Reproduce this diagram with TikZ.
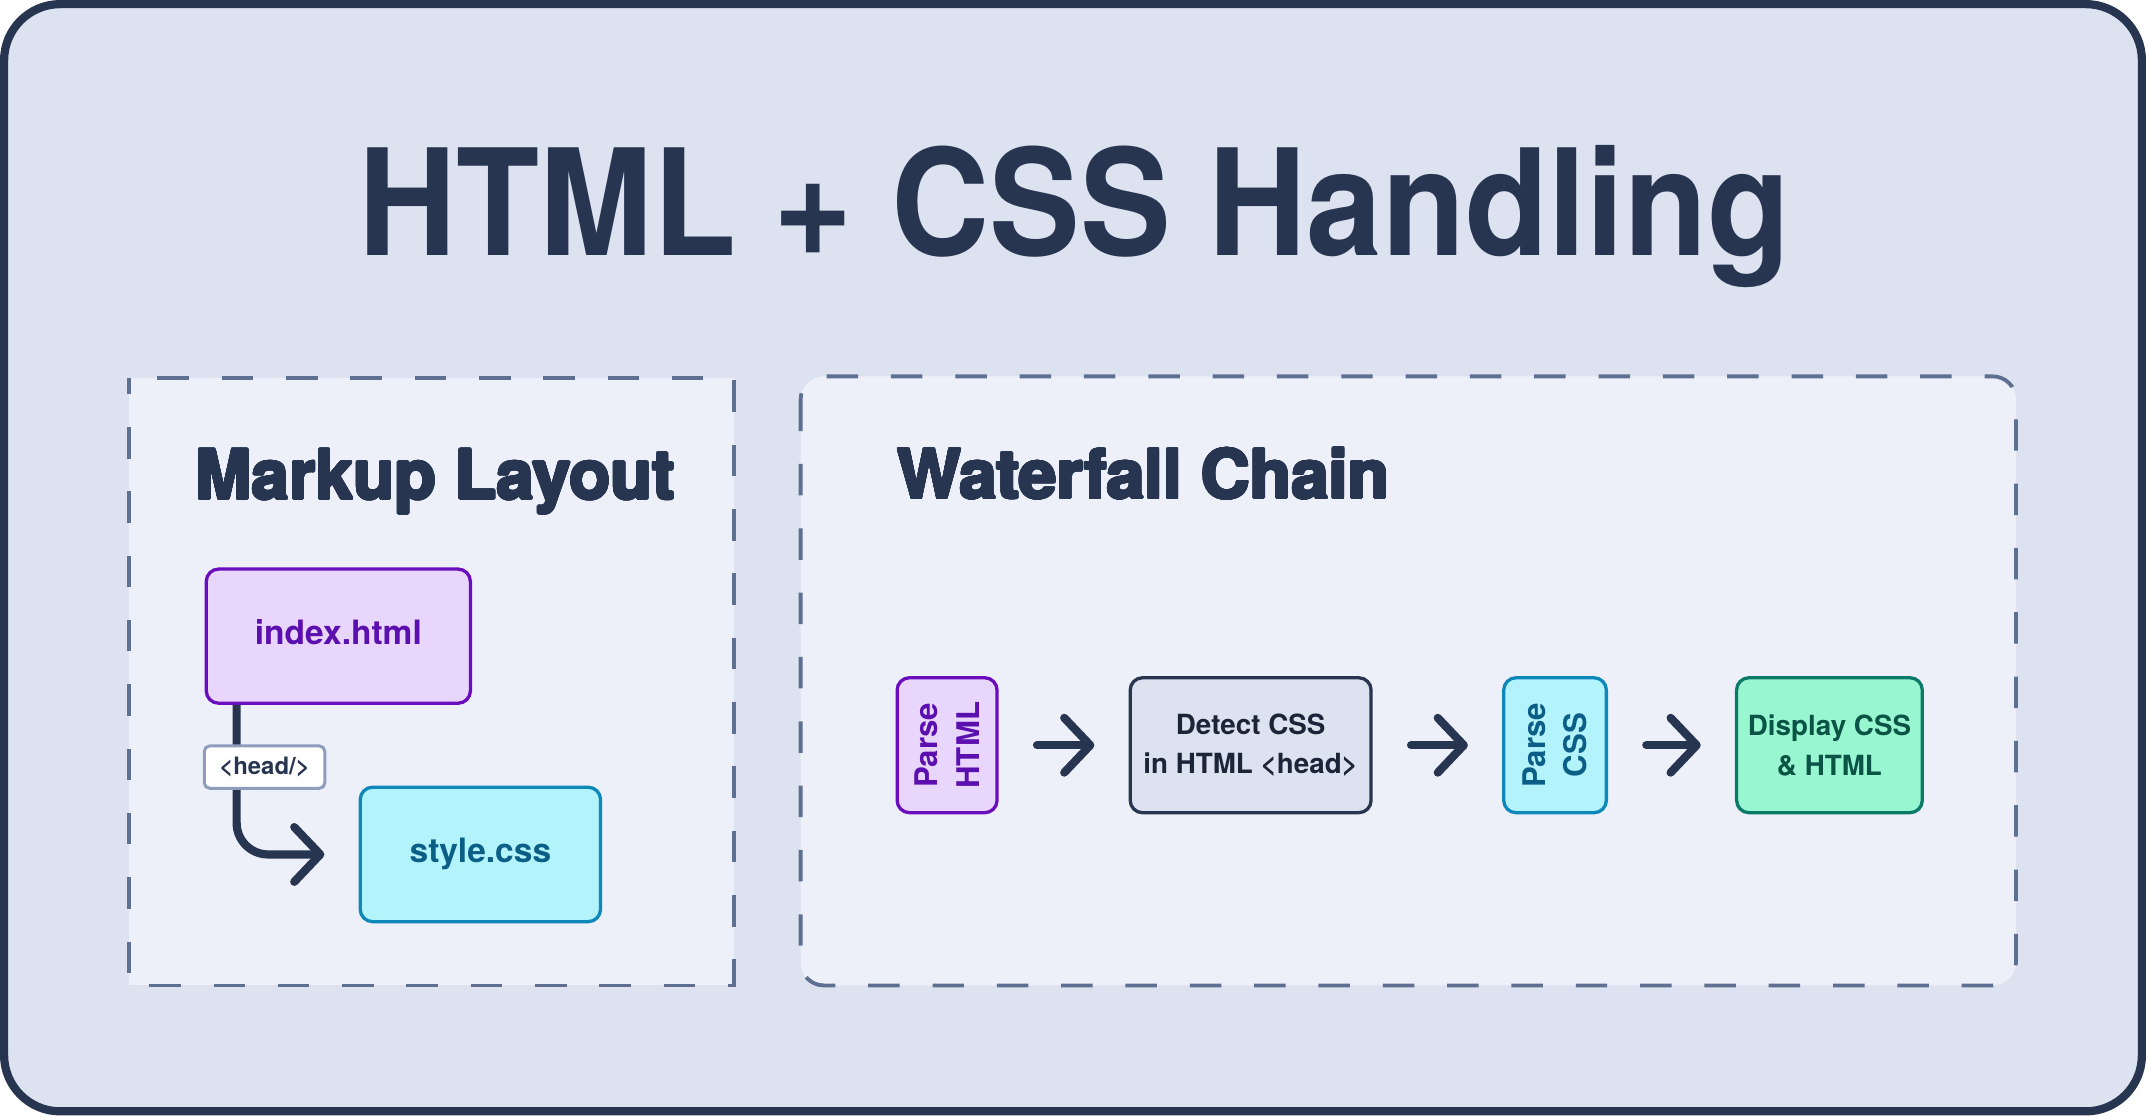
\documentclass[tikz,border=0pt]{standalone}
\usepackage{fontspec}
\usepackage[copies]{contour}
\contourlength{0.9pt}
\contournumber{24}
\setmainfont{TeX Gyre Heros}
\newfontfamily\titlefont{TeX Gyre Heros}[FakeStretch=0.92]
\usetikzlibrary{arrows.meta}
\definecolor{bgouter}{HTML}{DCE2F0}
\definecolor{panelfill}{HTML}{EDF0F8}
\definecolor{ink}{HTML}{273550}
\definecolor{dashc}{HTML}{5F6F91}
\definecolor{purF}{HTML}{E8D6FD}
\definecolor{purS}{HTML}{6A0DBD}
\definecolor{purT}{HTML}{5B0FAF}
\definecolor{cyaF}{HTML}{B2F3FC}
\definecolor{cyaS}{HTML}{0E88B8}
\definecolor{cyaT}{HTML}{0B5E85}
\definecolor{grnF}{HTML}{98F7D0}
\definecolor{grnS}{HTML}{0B7A68}
\definecolor{grnT}{HTML}{0A5345}
\definecolor{detF}{HTML}{DCE2F0}
\definecolor{detT}{HTML}{1C2438}
\definecolor{tagS}{HTML}{8F9DBD}
\begin{document}
\begin{tikzpicture}[x=1pt,y=-1pt,
  panel/.style={draw=dashc, line width=2.8pt, fill=panelfill, dash pattern=on 23pt off 24pt},
  box/.style={draw, line width=2.4pt, rounded corners=9pt, inner sep=0pt},
  filebox/.style={box, font=\bfseries\fontsize{24.5}{30}\selectfont, text height=17.6pt, text depth=5.2pt},
  flowbox/.style={box, font=\bfseries\fontsize{20.3}{29}\selectfont, align=center, minimum height=98.6pt},
  vtext/.style={rotate=90, align=center, inner sep=0pt, font=\bfseries\fontsize{22.8}{30}\selectfont},
  tagbox/.style={draw=tagS, fill=white, line width=2.2pt, rounded corners=4pt, inner sep=0pt,
    minimum width=88pt, minimum height=31pt, text=ink, font=\bfseries\fontsize{17.5}{20}\selectfont},
  tip/.style={-{Straight Barb[length=19pt,width=40pt,line cap=round,line join=round]}},
  flow/.style={ink, line width=6pt, line cap=round, tip},
  conn/.style={ink, line width=6pt, line cap=butt, rounded corners=23pt, tip},
  heading/.style={anchor=base west, inner sep=0pt, text=ink, font=\bfseries\fontsize{49.5}{56}\selectfont}
]
\useasboundingbox (0,0) rectangle (1568,815);
\draw[ink, line width=6pt, fill=bgouter, rounded corners=41pt] (3,3) rectangle (1565,812);

\node[anchor=base, inner sep=0pt, text=ink, font=\titlefont\bfseries\fontsize{108}{120}\selectfont] (title) at (785,187) {HTML + CSS Handling};

% panels
\draw[panel, dash phase=11pt] (94,276) rectangle (536,720);
\draw[panel, rounded corners=17pt] (585,275) rectangle (1473,720);

\node[heading] (ml) at (142.5,364.5) {\contour{ink}{Markup Layout}};
\node[heading] (wc) at (655.4,364.1) {\contour{ink}{Waterfall Chain}};

% markup layout
\node[filebox, draw=purS, fill=purF, text=purT, minimum width=193pt, minimum height=98pt] (idx) at (247.2,464.8) {index.html};
\node[filebox, draw=cyaS, fill=cyaF, text=cyaT, minimum width=175.6pt, minimum height=98.2pt] (sty) at (351,624.3) {style.css};
\draw[conn] ([xshift=23.4pt]idx.south west) |- ([xshift=-25pt]sty.west);
\node[tagbox] (hd) at (193.3,560.5) {<head/>};

% waterfall chain
\node[flowbox, draw=purS, fill=purF, minimum width=73pt] (ph) at (692,544.5) {};
\node[vtext, text=purT] (phT) at (ph.center) {Parse\\HTML};
\node[flowbox, draw=ink, fill=detF, text=detT, minimum width=176pt] (dt) at (913.8,544.5) {Detect CSS\\in HTML <head>};
\node[flowbox, draw=cyaS, fill=cyaF, minimum width=75pt] (pc) at (1136.2,544.5) {};
\node[vtext, text=cyaT] (pcT) at (pc.center) {Parse\\CSS};
\node[flowbox, draw=grnS, fill=grnF, text=grnT, minimum width=135.7pt] (dp) at (1336.7,544.5) {Display CSS\\\& HTML};

\draw[flow] ([xshift=28pt]ph.east) -- ([xshift=-25pt]dt.west);
\draw[flow] ([xshift=28pt]dt.east) -- ([xshift=-25pt]pc.west);
\draw[flow] ([xshift=28pt]pc.east) -- ([xshift=-25pt]dp.west);
\end{tikzpicture}
\end{document}
